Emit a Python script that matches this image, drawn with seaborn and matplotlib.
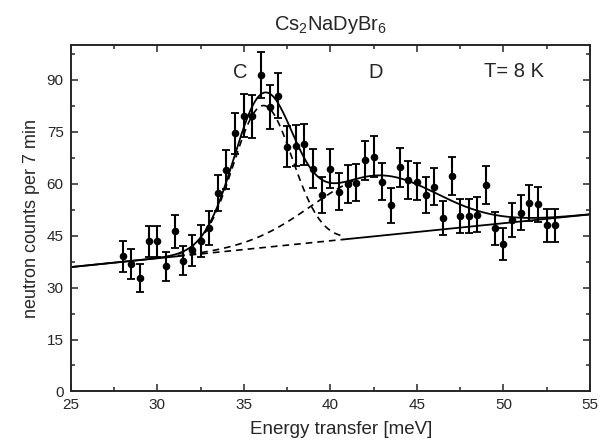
import numpy as np
import pandas as pd
import matplotlib
matplotlib.use("Agg")
import matplotlib.pyplot as plt
from matplotlib.ticker import MultipleLocator
import seaborn as sns

# ---- data ----
energy = [28.0, 28.5, 29.0, 29.5, 30.0, 30.5, 31.0, 31.5, 32.0, 32.5,
          33.0, 33.5, 34.0, 34.5, 35.0, 35.5, 36.0, 36.5, 37.0, 37.5,
          38.0, 38.5, 39.0, 39.5, 40.0, 40.5, 41.0, 41.5, 42.0, 42.5,
          43.0, 43.5, 44.0, 44.5, 45.0, 45.5, 46.0, 46.5, 47.0, 47.5,
          48.0, 48.5, 49.0, 49.5, 50.0, 50.5, 51.0, 51.5, 52.0, 52.5, 53.0]
counts = [39.0, 36.8, 32.8, 43.3, 43.3, 36.2, 46.2, 37.8, 40.7, 43.5,
          47.2, 57.3, 64.0, 74.5, 79.6, 79.4, 91.4, 82.2, 85.4, 70.6,
          70.9, 71.4, 64.3, 56.7, 64.3, 57.7, 59.9, 60.3, 66.7, 67.8,
          60.6, 53.7, 64.7, 61.1, 60.6, 56.7, 59.1, 50.0, 62.2, 50.6,
          50.6, 51.0, 59.6, 47.1, 42.5, 49.5, 51.6, 54.5, 54.0, 48.0, 48.0]
errors = [4.4, 4.3, 4.0, 4.6, 4.6, 4.2, 4.8, 4.3, 4.5, 4.6,
          4.8, 5.3, 5.6, 6.0, 6.2, 6.2, 6.7, 6.3, 6.5, 5.9,
          5.9, 5.9, 5.6, 5.3, 5.6, 5.3, 5.4, 5.4, 5.7, 5.8,
          5.4, 5.1, 5.6, 5.5, 5.4, 5.3, 5.4, 4.9, 5.5, 5.0,
          5.0, 5.0, 5.4, 4.8, 4.6, 4.9, 5.0, 5.2, 5.1, 4.8, 4.8]

# fit parameters (linear background + two Gaussians C and D)
bg_left, bg_right = 35.9, 51.1          # background at 25 and 55 meV
peak_C = dict(center=36.1, amp=41.0, sigma=1.7)
peak_D = dict(center=42.5, amp=17.5, sigma=3.6)

x_ticks = [25, 30, 35, 40, 45, 50, 55]
y_ticks = [0, 15, 30, 45, 60, 75, 90]

# ---- model curves ----
def background(e):
    return bg_left + (bg_right - bg_left) * (e - 25.0) / 30.0

def gauss(e, p):
    return p["amp"] * np.exp(-(e - p["center"]) ** 2 / (2 * p["sigma"] ** 2))

e_full = np.linspace(25, 55, 600)
total = background(e_full) + gauss(e_full, peak_C) + gauss(e_full, peak_D)
e_c = np.linspace(31.2, 40.75, 300)
e_d = np.linspace(31.2, 41.5, 300)
e_bgdash = np.linspace(31.2, 40.75, 100)
e_bg1 = np.linspace(25, 31.2, 20)
e_bg2 = np.linspace(40.75, 55, 40)

df_pts = pd.DataFrame({"E": energy, "N": counts, "err": errors})
df_tot = pd.DataFrame({"E": e_full, "N": total})
df_c = pd.DataFrame({"E": e_c, "N": background(e_c) + gauss(e_c, peak_C)})
df_d = pd.DataFrame({"E": e_d, "N": background(e_d) + gauss(e_d, peak_D)})
df_bgd = pd.DataFrame({"E": e_bgdash, "N": background(e_bgdash)})
df_bg1 = pd.DataFrame({"E": e_bg1, "N": background(e_bg1)})
df_bg2 = pd.DataFrame({"E": e_bg2, "N": background(e_bg2)})

sns.set_style("ticks")
plt.rcParams["font.family"] = ["Liberation Sans", "DejaVu Sans"]
plt.rcParams["mathtext.fontset"] = "custom"
plt.rcParams["mathtext.rm"] = "Liberation Sans"
plt.rcParams["mathtext.it"] = "Liberation Sans"

fig = plt.figure(figsize=(6.11, 4.47), dpi=100)
ax = fig.add_axes([0.1157, 0.1242, 0.8499, 0.7751])

dash_kw = dict(color="black", linewidth=1.2, dashes=(4, 3), legend=False)
sns.lineplot(data=df_c, x="E", y="N", ax=ax, **dash_kw)
sns.lineplot(data=df_d, x="E", y="N", ax=ax, **dash_kw)
sns.lineplot(data=df_bgd, x="E", y="N", ax=ax, **dash_kw)
solid_kw = dict(color="black", linewidth=1.3, legend=False)
sns.lineplot(data=df_bg1, x="E", y="N", ax=ax, **solid_kw)
sns.lineplot(data=df_bg2, x="E", y="N", ax=ax, **solid_kw)
sns.lineplot(data=df_tot, x="E", y="N", ax=ax, **solid_kw)

ax.errorbar(df_pts["E"], df_pts["N"], yerr=df_pts["err"], fmt="none",
            ecolor="black", elinewidth=1.5, capsize=2.8, capthick=1.3)
sns.scatterplot(data=df_pts, x="E", y="N", ax=ax, color="black", s=30,
                edgecolor="black", linewidth=0, zorder=5)

ax.set_xlim(25, 55)
ax.set_ylim(0, 100)
ax.set_xticks(x_ticks)
ax.set_yticks(y_ticks)
ax.xaxis.set_minor_locator(MultipleLocator(2.5))
ax.yaxis.set_minor_locator(MultipleLocator(7.5))
ax.tick_params(which="both", direction="in", top=True, right=True,
               labelsize=11, width=1.1)
ax.tick_params(axis="x", which="both", pad=5)
ax.tick_params(axis="y", which="both", pad=5)
ax.tick_params(which="major", length=5)
ax.tick_params(which="minor", length=3)
for sp in ax.spines.values():
    sp.set_linewidth(1.4)
    sp.set_visible(True)

ax.set_xlabel("Energy transfer [meV]", fontsize=13.5, labelpad=5)
ax.xaxis.set_label_coords(0.52, -0.085)
ax.set_ylabel("neutron counts per 7 min", fontsize=13, labelpad=5)
ax.set_title(r"Cs$_2$NaDyBr$_6$", fontsize=14.5, pad=11)

ax.text(34.8, 92.2, "C", fontsize=14.5, ha="center", va="center")
ax.text(42.6, 92.2, "D", fontsize=14.5, ha="center", va="center")
ax.text(50.6, 92.3, "T= 8 K", fontsize=14.5, ha="center", va="center")

fig.savefig("out.png", dpi=100)
